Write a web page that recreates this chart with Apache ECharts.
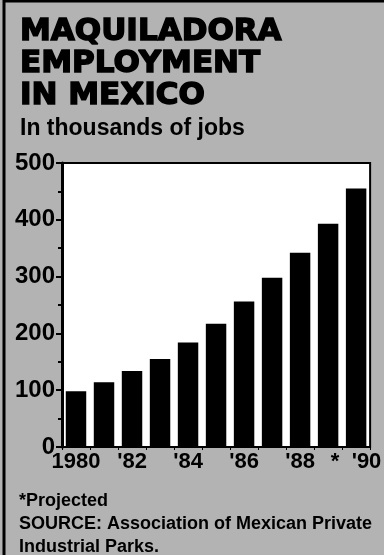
<!DOCTYPE html>
<html>
<head>
<meta charset="utf-8">
<script src="https://cdn.jsdelivr.net/npm/echarts@6/dist/echarts.min.js"></script>
<style>
  html, body { margin: 0; padding: 0; background: #b3b3b3; }
  #chart { width: 384px; height: 555px; }
</style>
</head>
<body>
<div id="chart"></div>
<script>
// maquiladora jobs, thousands (1990 projected)
const years = ['1980', '1981', '1982', '1983', '1984', '1985', '1986', '1987', '1988', '1989', '1990']
const jobs = [98, 114, 134, 155, 184, 217, 256, 298, 342, 393, 455]
const yearLabels = { '1980': '1980', '1982': "'82", '1984': "'84", '1986': "'86", '1988': "'88", '1990': "*  '90" }
const yTicks = [0, 100, 200, 300, 400, 500]

const font = '"Liberation Sans", Arial, sans-serif'
const heavy = '"DejaVu Sans", "Liberation Sans", sans-serif'

const chart = echarts.init(document.getElementById('chart'))

chart.setOption({
  backgroundColor: '#b3b3b3',
  animation: false,
  title: [
    {
      text: 'MAQUILADORA\nEMPLOYMENT\nIN MEXICO',
      subtext: 'In thousands of jobs',
      left: 15,
      top: 11,
      itemGap: 5,
      textStyle: {
        fontFamily: heavy, fontWeight: 900, fontSize: 31, lineHeight: 32, color: '#000',
        textBorderColor: '#000', textBorderWidth: 1.5,
      },
      subtextStyle: { fontFamily: font, fontWeight: 'bold', fontSize: 23, color: '#000' },
    },
    {
      text: '*Projected\nSOURCE: Association of Mexican Private\nIndustrial Parks.',
      left: 14,
      top: 485,
      textStyle: { fontFamily: font, fontWeight: 'bold', fontSize: 18, lineHeight: 23, color: '#000' },
    },
  ],
  graphic: [
    {
      type: 'rect',
      shape: { x: 4, y: 1, width: 390, height: 560 },
      style: { fill: null, stroke: '#000', lineWidth: 3 },
      silent: true,
    },
  ],
  grid: {
    left: 62, right: 6, top: 163, bottom: 108,
    show: true, backgroundColor: '#fff', borderColor: '#000', borderWidth: 2,
  },
  xAxis: {
    type: 'category',
    data: years,
    axisLine: { lineStyle: { color: '#000', width: 2 } },
    axisTick: { show: true, length: 3, lineStyle: { color: '#000' } },
    axisLabel: {
      interval: 0,
      margin: 4,
      fontFamily: font,
      fontWeight: 'bold',
      fontSize: 22,
      color: '#000',
      formatter: (v) => yearLabels[v] || '',
    },
  },
  yAxis: {
    type: 'value',
    min: yTicks[0],
    max: yTicks[yTicks.length - 1],
    interval: 100,
    axisLine: { show: true, lineStyle: { color: '#000', width: 3 } },
    axisTick: { show: true, length: 6, lineStyle: { color: '#000', width: 2 } },
    minorTick: { show: true, splitNumber: 2, length: 4, lineStyle: { color: '#000', width: 2 } },
    splitLine: { show: false },
    axisLabel: {
      margin: 7,
      fontFamily: font,
      fontWeight: 'bold',
      fontSize: 24,
      color: '#000',
    },
  },
  series: [
    {
      type: 'bar',
      data: jobs,
      barCategoryGap: '27%',
      itemStyle: { color: '#000' },
    },
  ],
})
</script>
</body>
</html>
